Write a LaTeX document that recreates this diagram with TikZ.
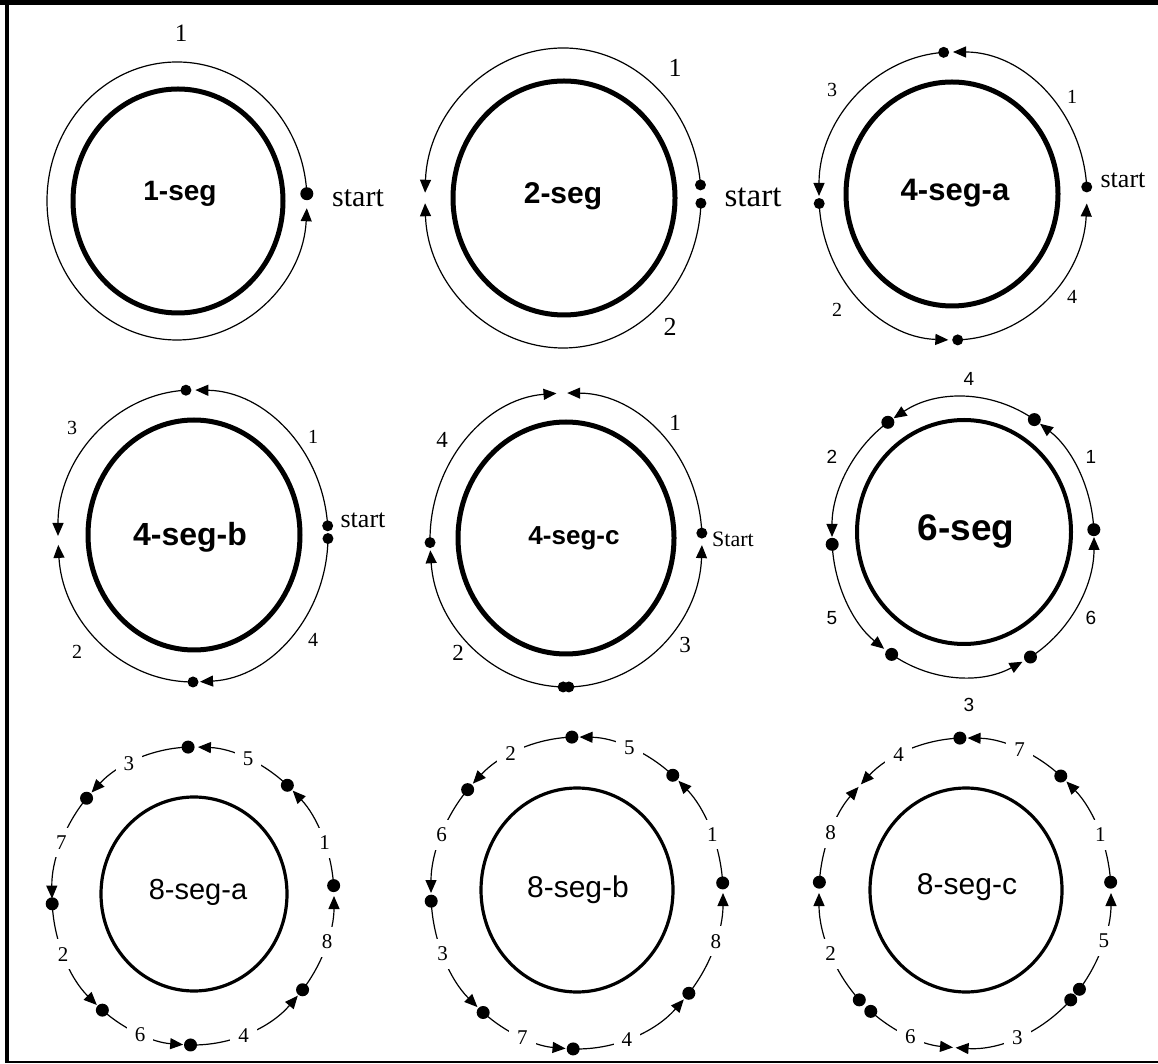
\documentclass[tikz,border=0pt]{standalone}
\usepackage{fontspec}
\setmainfont{Liberation Serif}
\newfontfamily\arialfont{Liberation Sans}
\usetikzlibrary{arrows.meta}

\begin{document}
\begin{tikzpicture}[x=1pt, y=1pt,
	track/.style={line width=1.2pt, -{Triangle[length=13pt, width=11pt]}},
	core/.style={line width=5pt},
	dot/.style={circle, fill, inner sep=0pt, minimum size=13pt},
	boldname/.style={font=\arialfont\bfseries\fontsize{#1}{#1}\selectfont},
	plainname/.style={font=\arialfont\fontsize{#1}{#1}\selectfont},
	idx/.style={font=\fontsize{#1}{#1}\selectfont},
	onring/.style={fill=white, inner sep=8pt, font=\fontsize{21}{21}\selectfont}]
	\useasboundingbox (0,0) rectangle (1158,1063);
	\draw[line width=4.5pt] (0,1060.7) -- (1158,1060.7);
	\draw[line width=4.3pt] (7.2,1063) -- (7.2,1);
	\draw[line width=1.5pt] (5,1.2) -- (1158,1.2);

	\begin{scope}[shift={(177,862)}, x radius=130, y radius=139]
		\draw[core] (1,0) ellipse [x radius=105, y radius=112];
		\node[boldname=28] (seg1) at (3,7) {1-seg};
		\node[dot] (a1) at (3:130 and 139) {};
		\draw[track] (a1.center) arc[start angle=3, end angle=357];
		\node[idx=25] (a1n) at (4,168) {1};
		\node[idx=30] (a0) at (181,3) {start};
	\end{scope}

	\begin{scope}[shift={(563,865)}, x radius=138, y radius=150, dot/.append style={minimum size=11pt}]
		\draw[core] (1,0) ellipse [x radius=111, y radius=117];
		\node[boldname=30] (seg2) at (0,2) {2-seg};
		\node[dot] (b1) at (5:138 and 150) {};
		\node[dot] (b2) at (-2:138 and 150) {};
		\draw[track] (b1.center) arc[start angle=5, end angle=178];
		\draw[track] (b2.center) arc[start angle=-2, end angle=-178];
		\node[idx=26] (b1n) at (112,130) {1};
		\node[idx=26] (b2n) at (107,-129) {2};
		\node[idx=33] (b0) at (190,1) {start};
	\end{scope}

	\begin{scope}[shift={(953,867)}, x radius=134, y radius=144, dot/.append style={minimum size=11pt}]
		\draw[core] (-1,2) ellipse [x radius=106, y radius=112];
		\node[boldname=31] (seg3) at (2,3) {4-seg-a};
		\node[dot] (c1) at (3.6:134 and 144) {};
		\node[dot] (c3) at (94:134 and 144) {};
		\node[dot] (c2) at (183:134 and 144) {};
		\node[dot] (c4) at (272:134 and 144) {};
		\draw[track] (c1.center) arc[start angle=3.6, end angle=90];
		\draw[track] (c3.center) arc[start angle=94, end angle=180];
		\draw[track] (c2.center) arc[start angle=183, end angle=268];
		\draw[track] (c4.center) arc[start angle=272, end angle=357];
		\node[idx=20] (c1n) at (119,99) {1};
		\node[idx=20] (c2n) at (-116,-114) {2};
		\node[idx=20] (c3n) at (-121,106) {3};
		\node[idx=20] (c4n) at (119,-101) {4};
		\node[idx=26] (c0) at (170,16) {start};
	\end{scope}

	\begin{scope}[shift={(193,527)}, x radius=135, y radius=146, dot/.append style={minimum size=11pt}]
		\draw[core] (1,1) ellipse [x radius=106, y radius=115];
		\node[boldname=32] (seg4) at (-3,-1) {4-seg-b};
		\node[dot] (d1) at (4:135 and 146) {};
		\node[dot] (d4) at (-1:135 and 146) {};
		\node[dot] (d3) at (93:135 and 146) {};
		\node[dot] (d2) at (270:135 and 146) {};
		\draw[track] (d1.center) arc[start angle=4, end angle=89];
		\draw[track] (d3.center) arc[start angle=93, end angle=180];
		\draw[track] (d2.center) arc[start angle=270, end angle=183.5];
		\draw[track] (d4.center) arc[start angle=-1, end angle=-87];
		\node[idx=20] (d1n) at (120,99) {1};
		\node[idx=20] (d2n) at (-116,-116) {2};
		\node[idx=20] (d3n) at (-121,108) {3};
		\node[idx=20] (d4n) at (120,-104) {4};
		\node[idx=26] (d0) at (170,16) {start};
	\end{scope}

	\begin{scope}[shift={(566,523)}, x radius=136, y radius=147, dot/.append style={minimum size=11pt}]
		\draw[core] (0,2) ellipse [x radius=108, y radius=116];
		\node[boldname=26] (seg5) at (8,2) {4-seg-c};
		\node[dot] (e1) at (2.7:136 and 147) {};
		\node[dot] (e4) at (181:136 and 147) {};
		\node[dot] (e2) at (268.8:136 and 147) {};
		\node[dot] (e3) at (271.2:136 and 147) {};
		\draw[track] (e1.center) arc[start angle=2.7, end angle=89.5];
		\draw[track] (e4.center) arc[start angle=181, end angle=94];
		\draw[track] (e2.center) arc[start angle=268.8, end angle=184];
		\draw[track] (e3.center) arc[start angle=271.2, end angle=358];
		\node[idx=23] (e1n) at (109,117) {1};
		\node[idx=23] (e2n) at (-108,-113) {2};
		\node[idx=23] (e3n) at (119,-105) {3};
		\node[idx=23] (e4n) at (-124,100) {4};
		\node[idx=22] (e0) at (167,1) {Start};
	\end{scope}

	\begin{scope}[shift={(963,526)}, x radius=131, y radius=140]
		\draw[core, line width=4pt] (1,5) ellipse [x radius=107, y radius=112];
		\node[boldname=37] (seg6) at (3,5) {6-seg};
		\node[dot] (f1) at (3:131 and 140) {};
		\node[dot] (f4) at (57:131 and 140) {};
		\node[dot] (f2) at (125:131 and 140) {};
		\node[dot] (f5) at (183:131 and 140) {};
		\node[dot] (f3) at (237:131 and 140) {};
		\node[dot] (f6) at (301:131 and 140) {};
		\draw[track] (f1.center) arc[start angle=3, end angle=54];
		\draw[track] (f4.center) arc[start angle=57, end angle=122];
		\draw[track] (f2.center) arc[start angle=125, end angle=180];
		\draw[track] (f5.center) arc[start angle=183, end angle=233];
		\draw[track] (f3.center) arc[start angle=237, end angle=297];
		\draw[track] (f6.center) arc[start angle=301, end angle=360];
		\node[plainname=19] (f1n) at (128,80) {1};
		\node[plainname=19] (f2n) at (-131,80) {2};
		\node[plainname=19] (f3n) at (6,-168) {3};
		\node[plainname=19] (f4n) at (6,158) {4};
		\node[plainname=19] (f5n) at (-131,-81) {5};
		\node[plainname=19] (f6n) at (128,-81) {6};
	\end{scope}

	\begin{scope}[shift={(193,167)}, x radius=141, y radius=149]
		\draw[core, line width=3.2pt] (1,2) ellipse [x radius=93, y radius=97];
		\node[plainname=29] (seg7) at (5,4) {8-seg-a};
		\node[dot] (g1) at (4:141 and 149) {};
		\node[dot] (g5) at (48:141 and 149) {};
		\node[dot] (g3) at (92:141 and 149) {};
		\node[dot] (g7) at (139:141 and 149) {};
		\node[dot] (g2) at (183:141 and 149) {};
		\node[dot] (g6) at (230:141 and 149) {};
		\node[dot] (g4) at (269:141 and 149) {};
		\node[dot] (g8) at (321:141 and 149) {};
		\draw[track] (g1.center) arc[start angle=4, end angle=45];
		\draw[track] (g5.center) arc[start angle=48, end angle=88];
		\draw[track] (g3.center) arc[start angle=92, end angle=136];
		\draw[track] (g7.center) arc[start angle=139, end angle=181];
		\draw[track] (g2.center) arc[start angle=183, end angle=227];
		\draw[track] (g6.center) arc[start angle=230, end angle=266];
		\draw[track] (g4.center) arc[start angle=269, end angle=318];
		\draw[track] (g8.center) arc[start angle=321, end angle=360];
		\node[onring] (g1n) at (21:141 and 149) {1};
		\node[onring] (g5n) at (67:141 and 149) {5};
		\node[onring] (g3n) at (117:141 and 149) {3};
		\node[onring] (g7n) at (159:141 and 149) {7};
		\node[onring] (g2n) at (203:141 and 149) {2};
		\node[onring] (g6n) at (248:141 and 149) {6};
		\node[onring] (g4n) at (291:141 and 149) {4};
		\node[onring] (g8n) at (342:141 and 149) {8};
	\end{scope}

	\begin{scope}[shift={(577,170)}, x radius=146, y radius=156]
		\draw[core, line width=3.2pt] (0,3) ellipse [x radius=96, y radius=102];
		\node[plainname=30] (seg8) at (1,3) {8-seg-b};
		\node[dot] (h1) at (3.7:146 and 156) {};
		\node[dot] (h5) at (49:146 and 156) {};
		\node[dot] (h2) at (92:146 and 156) {};
		\node[dot] (h6) at (138.5:146 and 156) {};
		\node[dot] (h3) at (183:146 and 156) {};
		\node[dot] (h7) at (230:146 and 156) {};
		\node[dot] (h4) at (268.5:146 and 156) {};
		\node[dot] (h8) at (320:146 and 156) {};
		\draw[track] (h1.center) arc[start angle=3.7, end angle=46];
		\draw[track] (h5.center) arc[start angle=49, end angle=89];
		\draw[track] (h2.center) arc[start angle=92, end angle=135.5];
		\draw[track] (h6.center) arc[start angle=138.5, end angle=180];
		\draw[track] (h3.center) arc[start angle=183, end angle=227];
		\draw[track] (h7.center) arc[start angle=230, end angle=265.5];
		\draw[track] (h4.center) arc[start angle=268.5, end angle=317];
		\draw[track] (h8.center) arc[start angle=320, end angle=360];
		\node[onring] (h1n) at (22:146 and 156) {1};
		\node[onring] (h5n) at (69:146 and 156) {5};
		\node[onring] (h2n) at (117:146 and 156) {2};
		\node[onring] (h6n) at (158:146 and 156) {6};
		\node[onring] (h3n) at (203:146 and 156) {3};
		\node[onring] (h7n) at (248:146 and 156) {7};
		\node[onring] (h4n) at (290:146 and 156) {4};
		\node[onring] (h8n) at (342:146 and 156) {8};
	\end{scope}

	\begin{scope}[shift={(965,170)}, x radius=146, y radius=155]
		\draw[core, line width=3.2pt] (1,3) ellipse [x radius=96, y radius=102];
		\node[plainname=30] (seg9) at (2,6) {8-seg-c};
		\node[dot] (k1) at (4:146 and 155) {};
		\node[dot] (k7) at (49:146 and 155) {};
		\node[dot] (k4) at (92:146 and 155) {};
		\node[dot] (k8) at (176:146 and 155) {};
		\node[dot] (k2) at (223.6:146 and 155) {};
		\node[dot] (k6) at (229.8:146 and 155) {};
		\node[dot] (k3) at (316.4:146 and 155) {};
		\node[dot] (k5) at (321.6:146 and 155) {};
		\draw[track] (k1.center) arc[start angle=4, end angle=46];
		\draw[track] (k7.center) arc[start angle=49, end angle=89];
		\draw[track] (k4.center) arc[start angle=92, end angle=135.5];
		\draw[track] (k8.center) arc[start angle=176, end angle=136.8];
		\draw[track] (k2.center) arc[start angle=223.6, end angle=180];
		\draw[track] (k6.center) arc[start angle=229.8, end angle=265.3];
		\draw[track] (k3.center) arc[start angle=316.4, end angle=266.3];
		\draw[track] (k5.center) arc[start angle=321.6, end angle=360];
		\node[onring] (k1n) at (22:146 and 155) {1};
		\node[onring] (k7n) at (68:146 and 155) {7};
		\node[onring] (k4n) at (117:146 and 155) {4};
		\node[onring] (k8n) at (157:146 and 155) {8};
		\node[onring] (k2n) at (203:146 and 155) {2};
		\node[onring] (k6n) at (248:146 and 155) {6};
		\node[onring] (k3n) at (291:146 and 155) {3};
		\node[onring] (k5n) at (342:146 and 155) {5};
	\end{scope}
\end{tikzpicture}
\end{document}
